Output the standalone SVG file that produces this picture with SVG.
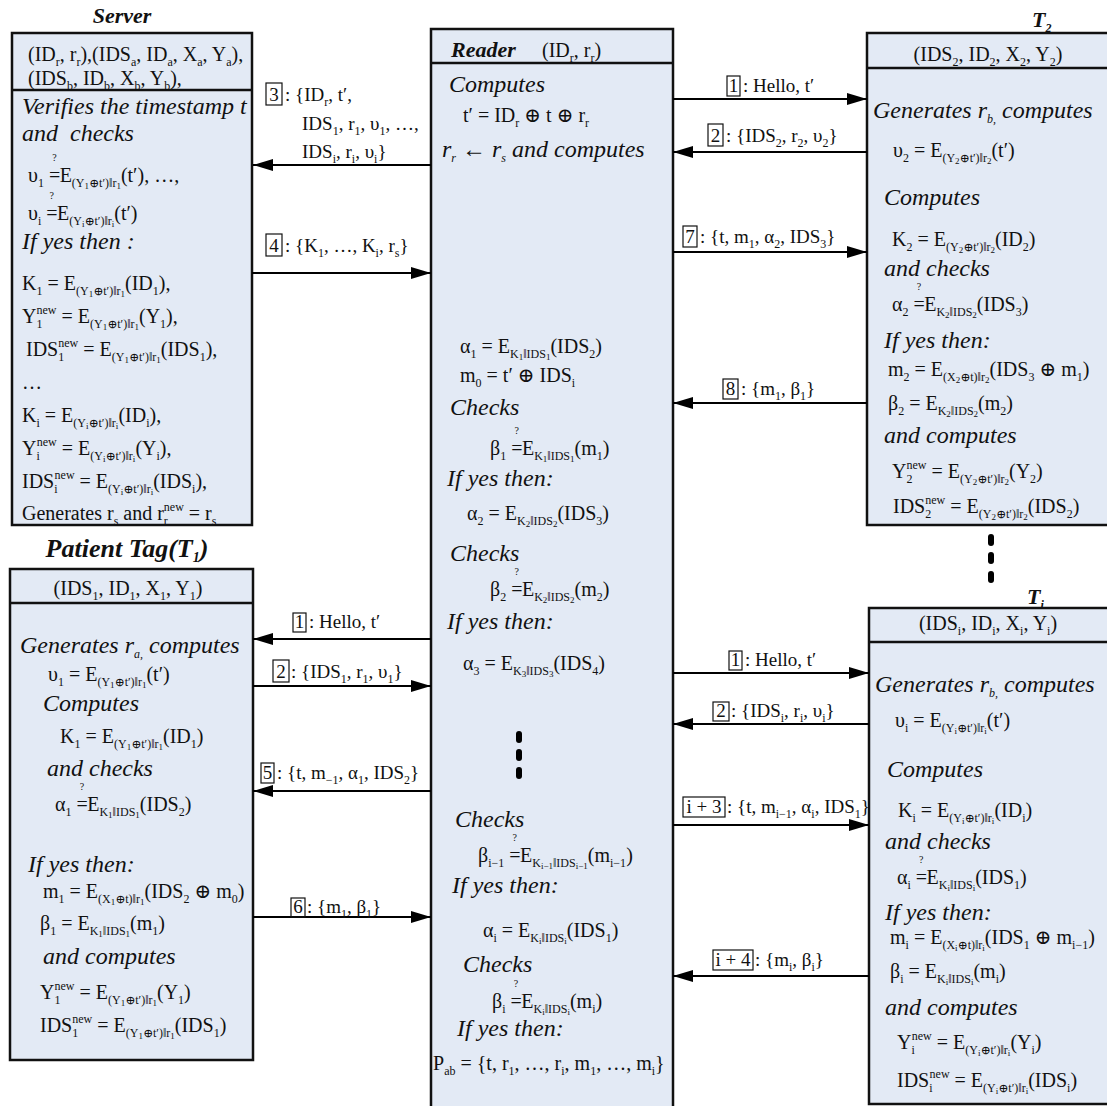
<svg xmlns="http://www.w3.org/2000/svg" width="1107" height="1106" viewBox="0 0 1107 1106">
<defs>
<marker id="ah" markerWidth="20" markerHeight="12" refX="20" refY="6" orient="auto" markerUnits="userSpaceOnUse">
<path d="M0,0 L20,6 L0,12 Z" fill="#000"/>
</marker>
</defs>
<style>
.box{fill:#e3eaf5;stroke:#111;stroke-width:2.5}
.div{stroke:#111;stroke-width:2.5}
text{font-family:"Liberation Serif","DejaVu Serif",serif;fill:#111}
.m{font-size:20px}
.l{font-size:19px}
.it{font-size:24px;font-style:italic}
.bi{font-size:22px;font-style:italic;font-weight:bold}
.s{font-size:12px;baseline-shift:-5px}
.ss{font-size:9px;baseline-shift:-2px}
.p{font-size:12px;baseline-shift:9px}
.q{font-size:10px;baseline-shift:21px}
.msg{fill:none;stroke:#000;stroke-width:2;marker-end:url(#ah)}
.nb{fill:none;stroke:#111;stroke-width:1.2}
.dot{fill:#000}
</style>

<rect width="1107" height="1106" fill="#fff"/>

<!-- Server -->
<g id="server">
<text class="bi" x="122" y="23" text-anchor="middle">Server</text>
<rect class="box" x="12" y="33" width="240" height="492"/>
<line class="div" x1="12" y1="90" x2="252" y2="90"/>
<text class="m" x="28" y="61">(ID<tspan class="s">r</tspan>, r<tspan class="s">r</tspan>),(IDS<tspan class="s">a</tspan>, ID<tspan class="s">a</tspan>, X<tspan class="s">a</tspan>, Y<tspan class="s">a</tspan>),</text>
<text class="m" x="28" y="85">(IDS<tspan class="s">b</tspan>, ID<tspan class="s">b</tspan>, X<tspan class="s">b</tspan>, Y<tspan class="s">b</tspan>),</text>
<text class="it" x="22" y="114">Verifies the timestamp t</text>
<text class="it" x="22" y="141" xml:space="preserve">and  checks</text>
<text class="m" x="28" y="182">υ<tspan class="s">1</tspan> =<tspan class="q" dx="-8">?</tspan><tspan dx="3">E</tspan><tspan class="s">(Y<tspan class="ss">1</tspan>⊕t′)‖r<tspan class="ss">1</tspan></tspan>(t′),  …,</text>
<text class="m" x="28" y="220">υ<tspan class="s">i</tspan> =<tspan class="q" dx="-8">?</tspan><tspan dx="3">E</tspan><tspan class="s">(Y<tspan class="ss">i</tspan>⊕t′)‖r<tspan class="ss">i</tspan></tspan>(t′)</text>
<text class="it" x="22" y="249">If yes then :</text>
<text class="m" x="22" y="290">K<tspan class="s">1</tspan> = E<tspan class="s">(Y<tspan class="ss">1</tspan>⊕t′)‖r<tspan class="ss">1</tspan></tspan>(ID<tspan class="s">1</tspan>),</text>
<text class="m" x="22" y="323">Y<tspan class="s">1</tspan><tspan class="p" dx="-6">new</tspan> = E<tspan class="s">(Y<tspan class="ss">1</tspan>⊕t′)‖r<tspan class="ss">1</tspan></tspan>(Y<tspan class="s">1</tspan>),</text>
<text class="m" x="26" y="356">IDS<tspan class="s">1</tspan><tspan class="p" dx="-6">new</tspan> = E<tspan class="s">(Y<tspan class="ss">1</tspan>⊕t′)‖r<tspan class="ss">1</tspan></tspan>(IDS<tspan class="s">1</tspan>),</text>
<text class="m" x="22" y="389">…</text>
<text class="m" x="22" y="422">K<tspan class="s">i</tspan> = E<tspan class="s">(Y<tspan class="ss">i</tspan>⊕t′)‖r<tspan class="ss">i</tspan></tspan>(ID<tspan class="s">i</tspan>),</text>
<text class="m" x="22" y="455">Y<tspan class="s">i</tspan><tspan class="p" dx="-3">new</tspan> = E<tspan class="s">(Y<tspan class="ss">i</tspan>⊕t′)‖r<tspan class="ss">i</tspan></tspan>(Y<tspan class="s">i</tspan>),</text>
<text class="m" x="22" y="488">IDS<tspan class="s">i</tspan><tspan class="p" dx="-3">new</tspan> = E<tspan class="s">(Y<tspan class="ss">i</tspan>⊕t′)‖r<tspan class="ss">i</tspan></tspan>(IDS<tspan class="s">i</tspan>),</text>
<text class="m" x="22" y="520">Generates r<tspan class="s">s</tspan> and r<tspan class="s">r</tspan><tspan class="p" dx="-4">new</tspan> = r<tspan class="s">s</tspan></text>
</g>

<!-- Reader -->
<g id="reader">
<rect class="box" x="431" y="29" width="242" height="1100"/>
<line class="div" x1="431" y1="63" x2="673" y2="63"/>
<text class="bi" x="451" y="57">Reader</text>
<text class="m" x="542" y="57">(ID<tspan class="s">r</tspan>, r<tspan class="s">r</tspan>)</text>
<text class="it" x="449" y="92">Computes</text>
<text class="m" x="463" y="122">t′ = ID<tspan class="s">r</tspan> ⊕ t ⊕ r<tspan class="s">r</tspan></text>
<text class="it" x="442" y="157">r<tspan class="s">r</tspan> ← r<tspan class="s">s</tspan> and  computes</text>
<text class="m" x="460" y="353">α<tspan class="s">1</tspan> = E<tspan class="s">K<tspan class="ss">1</tspan>‖IDS<tspan class="ss">1</tspan></tspan>(IDS<tspan class="s">2</tspan>)</text>
<text class="m" x="460" y="382">m<tspan class="s">0</tspan> = t′ ⊕ IDS<tspan class="s">i</tspan></text>
<text class="it" x="450" y="415">Checks</text>
<text class="m" x="490" y="455">β<tspan class="s">1</tspan> =<tspan class="q" dx="-8">?</tspan><tspan dx="3">E</tspan><tspan class="s">K<tspan class="ss">1</tspan>‖IDS<tspan class="ss">1</tspan></tspan>(m<tspan class="s">1</tspan>)</text>
<text class="it" x="447" y="486">If yes then:</text>
<text class="m" x="467" y="520">α<tspan class="s">2</tspan> = E<tspan class="s">K<tspan class="ss">2</tspan>‖IDS<tspan class="ss">2</tspan></tspan>(IDS<tspan class="s">3</tspan>)</text>
<text class="it" x="450" y="561">Checks</text>
<text class="m" x="490" y="596">β<tspan class="s">2</tspan> =<tspan class="q" dx="-8">?</tspan><tspan dx="3">E</tspan><tspan class="s">K<tspan class="ss">2</tspan>‖IDS<tspan class="ss">2</tspan></tspan>(m<tspan class="s">2</tspan>)</text>
<text class="it" x="447" y="629">If yes then:</text>
<text class="m" x="463" y="670">α<tspan class="s">3</tspan> = E<tspan class="s">K<tspan class="ss">3</tspan>‖IDS<tspan class="ss">3</tspan></tspan>(IDS<tspan class="s">4</tspan>)</text>
<rect class="dot" x="516" y="731" width="6" height="12" rx="3"/>
<rect class="dot" x="516" y="749" width="6" height="12" rx="3"/>
<rect class="dot" x="516" y="767" width="6" height="12" rx="3"/>
<text class="it" x="455" y="827">Checks</text>
<text class="m" x="478" y="862">β<tspan class="s">i−1</tspan> =<tspan class="q" dx="-8">?</tspan><tspan dx="3">E</tspan><tspan class="s">K<tspan class="ss">i−1</tspan>‖IDS<tspan class="ss">i−1</tspan></tspan>(m<tspan class="s">i−1</tspan>)</text>
<text class="it" x="452" y="893">If yes then:</text>
<text class="m" x="483" y="937">α<tspan class="s">i</tspan> = E<tspan class="s">K<tspan class="ss">i</tspan>‖IDS<tspan class="ss">i</tspan></tspan>(IDS<tspan class="s">1</tspan>)</text>
<text class="it" x="463" y="972">Checks</text>
<text class="m" x="492" y="1008">β<tspan class="s">i</tspan> =<tspan class="q" dx="-8">?</tspan><tspan dx="3">E</tspan><tspan class="s">K<tspan class="ss">i</tspan>‖IDS<tspan class="ss">i</tspan></tspan>(m<tspan class="s">i</tspan>)</text>
<text class="it" x="457" y="1036">If yes then:</text>
<text class="m" x="433" y="1070">P<tspan class="s">ab</tspan> = {t, r<tspan class="s">1</tspan>, …, r<tspan class="s">i</tspan>, m<tspan class="s">1</tspan>, …, m<tspan class="s">i</tspan>}</text>
</g>

<!-- Tag T2 -->
<g id="tag-t2">
<text class="bi" x="1032" y="27">T<tspan class="s">2</tspan></text>
<rect class="box" x="867" y="33" width="250" height="492"/>
<line class="div" x1="867" y1="68" x2="1117" y2="68"/>
<text class="m" x="988" y="61" text-anchor="middle">(IDS<tspan class="s">2</tspan>, ID<tspan class="s">2</tspan>, X<tspan class="s">2</tspan>, Y<tspan class="s">2</tspan>)</text>
<text class="it" x="873" y="118">Generates r<tspan class="s">b,</tspan> computes</text>
<text class="m" x="893" y="157">υ<tspan class="s">2</tspan> = E<tspan class="s">(Y<tspan class="ss">2</tspan>⊕t′)‖r<tspan class="ss">2</tspan></tspan>(t′)</text>
<text class="it" x="884" y="205">Computes</text>
<text class="m" x="892" y="246">K<tspan class="s">2</tspan> = E<tspan class="s">(Y<tspan class="ss">2</tspan>⊕t′)‖r<tspan class="ss">2</tspan></tspan>(ID<tspan class="s">2</tspan>)</text>
<text class="it" x="884" y="276">and checks</text>
<text class="m" x="892" y="311">α<tspan class="s">2</tspan> =<tspan class="q" dx="-8">?</tspan><tspan dx="3">E</tspan><tspan class="s">K<tspan class="ss">2</tspan>‖IDS<tspan class="ss">2</tspan></tspan>(IDS<tspan class="s">3</tspan>)</text>
<text class="it" x="884" y="348">If yes then:</text>
<text class="m" x="888" y="376">m<tspan class="s">2</tspan> = E<tspan class="s">(X<tspan class="ss">2</tspan>⊕t)‖r<tspan class="ss">2</tspan></tspan>(IDS<tspan class="s">3</tspan> ⊕ m<tspan class="s">1</tspan>)</text>
<text class="m" x="888" y="410">β<tspan class="s">2</tspan> = E<tspan class="s">K<tspan class="ss">2</tspan>‖IDS<tspan class="ss">2</tspan></tspan>(m<tspan class="s">2</tspan>)</text>
<text class="it" x="884" y="443">and computes</text>
<text class="m" x="892" y="478">Y<tspan class="s">2</tspan><tspan class="p" dx="-6">new</tspan> = E<tspan class="s">(Y<tspan class="ss">2</tspan>⊕t′)‖r<tspan class="ss">2</tspan></tspan>(Y<tspan class="s">2</tspan>)</text>
<text class="m" x="893" y="513">IDS<tspan class="s">2</tspan><tspan class="p" dx="-6">new</tspan> = E<tspan class="s">(Y<tspan class="ss">2</tspan>⊕t′)‖r<tspan class="ss">2</tspan></tspan>(IDS<tspan class="s">2</tspan>)</text>
</g>

<!-- more tags between T2 and Ti -->
<g id="ellipsis-tags">
<rect class="dot" x="988" y="534" width="6" height="12" rx="3"/>
<rect class="dot" x="988" y="552" width="6" height="12" rx="3"/>
<rect class="dot" x="988" y="571" width="6" height="12" rx="3"/>
</g>

<!-- Tag Ti -->
<g id="tag-ti">
<text class="bi" x="1027" y="604">T<tspan class="s">i</tspan></text>
<rect class="box" x="869" y="608" width="250" height="496"/>
<line class="div" x1="869" y1="642" x2="1119" y2="642"/>
<text class="m" x="988" y="630" text-anchor="middle">(IDS<tspan class="s">i</tspan>, ID<tspan class="s">i</tspan>, X<tspan class="s">i</tspan>, Y<tspan class="s">i</tspan>)</text>
<text class="it" x="875" y="692">Generates r<tspan class="s">b,</tspan> computes</text>
<text class="m" x="895" y="727">υ<tspan class="s">i</tspan> = E<tspan class="s">(Y<tspan class="ss">i</tspan>⊕t′)‖r<tspan class="ss">i</tspan></tspan>(t′)</text>
<text class="it" x="887" y="777">Computes</text>
<text class="m" x="898" y="817">K<tspan class="s">i</tspan> = E<tspan class="s">(Y<tspan class="ss">i</tspan>⊕t′)‖r<tspan class="ss">i</tspan></tspan>(ID<tspan class="s">i</tspan>)</text>
<text class="it" x="885" y="849">and checks</text>
<text class="m" x="897" y="884">α<tspan class="s">i</tspan> =<tspan class="q" dx="-8">?</tspan><tspan dx="3">E</tspan><tspan class="s">K<tspan class="ss">i</tspan>‖IDS<tspan class="ss">i</tspan></tspan>(IDS<tspan class="s">1</tspan>)</text>
<text class="it" x="885" y="920">If yes then:</text>
<text class="m" x="890" y="944">m<tspan class="s">i</tspan> = E<tspan class="s">(X<tspan class="ss">i</tspan>⊕t)‖r<tspan class="ss">i</tspan></tspan>(IDS<tspan class="s">1</tspan> ⊕ m<tspan class="s">i−1</tspan>)</text>
<text class="m" x="890" y="978">β<tspan class="s">i</tspan> = E<tspan class="s">K<tspan class="ss">i</tspan>‖IDS<tspan class="ss">i</tspan></tspan>(m<tspan class="s">i</tspan>)</text>
<text class="it" x="885" y="1015">and computes</text>
<text class="m" x="897" y="1049">Y<tspan class="s">i</tspan><tspan class="p" dx="-3">new</tspan> = E<tspan class="s">(Y<tspan class="ss">i</tspan>⊕t′)‖r<tspan class="ss">i</tspan></tspan>(Y<tspan class="s">i</tspan>)</text>
<text class="m" x="897" y="1087">IDS<tspan class="s">i</tspan><tspan class="p" dx="-3">new</tspan> = E<tspan class="s">(Y<tspan class="ss">i</tspan>⊕t′)‖r<tspan class="ss">i</tspan></tspan>(IDS<tspan class="s">i</tspan>)</text>
</g>

<!-- Patient tag T1 -->
<g id="tag-t1">
<text class="bi" x="127" y="557" text-anchor="middle" style="font-size:26px">Patient Tag(T<tspan class="s" style="font-size:14px">1</tspan>)</text>
<rect class="box" x="10" y="569" width="243" height="491"/>
<line class="div" x1="10" y1="603" x2="253" y2="603"/>
<text class="m" x="128" y="595" text-anchor="middle">(IDS<tspan class="s">1</tspan>, ID<tspan class="s">1</tspan>, X<tspan class="s">1</tspan>, Y<tspan class="s">1</tspan>)</text>
<text class="it" x="20" y="653">Generates r<tspan class="s">a,</tspan> computes</text>
<text class="m" x="48" y="681">υ<tspan class="s">1</tspan> = E<tspan class="s">(Y<tspan class="ss">1</tspan>⊕t′)‖r<tspan class="ss">1</tspan></tspan>(t′)</text>
<text class="it" x="43" y="711">Computes</text>
<text class="m" x="60" y="743">K<tspan class="s">1</tspan> = E<tspan class="s">(Y<tspan class="ss">1</tspan>⊕t′)‖r<tspan class="ss">1</tspan></tspan>(ID<tspan class="s">1</tspan>)</text>
<text class="it" x="47" y="776">and checks</text>
<text class="m" x="55" y="811">α<tspan class="s">1</tspan> =<tspan class="q" dx="-8">?</tspan><tspan dx="3">E</tspan><tspan class="s">K<tspan class="ss">1</tspan>‖IDS<tspan class="ss">1</tspan></tspan>(IDS<tspan class="s">2</tspan>)</text>
<text class="it" x="28" y="872">If yes then:</text>
<text class="m" x="43" y="898">m<tspan class="s">1</tspan> = E<tspan class="s">(X<tspan class="ss">1</tspan>⊕t)‖r<tspan class="ss">1</tspan></tspan>(IDS<tspan class="s">2</tspan> ⊕ m<tspan class="s">0</tspan>)</text>
<text class="m" x="40" y="930">β<tspan class="s">1</tspan> = E<tspan class="s">K<tspan class="ss">1</tspan>‖IDS<tspan class="ss">1</tspan></tspan>(m<tspan class="s">1</tspan>)</text>
<text class="it" x="43" y="964">and computes</text>
<text class="m" x="40" y="999">Y<tspan class="s">1</tspan><tspan class="p" dx="-6">new</tspan> = E<tspan class="s">(Y<tspan class="ss">1</tspan>⊕t′)‖r<tspan class="ss">1</tspan></tspan>(Y<tspan class="s">1</tspan>)</text>
<text class="m" x="40" y="1032">IDS<tspan class="s">1</tspan><tspan class="p" dx="-6">new</tspan> = E<tspan class="s">(Y<tspan class="ss">1</tspan>⊕t′)‖r<tspan class="ss">1</tspan></tspan>(IDS<tspan class="s">1</tspan>)</text>
</g>

<!-- Messages -->
<g id="connectors">
<!-- reader <-> server -->
<line class="msg" x1="431" y1="165" x2="253" y2="165"/>
<rect class="nb" x="266" y="83" width="16" height="22"/>
<text class="l" x="274" y="101" text-anchor="middle">3</text>
<text class="l" x="285" y="101">: {ID<tspan class="s">r</tspan>, t′,</text>
<text class="l" x="302" y="130">IDS<tspan class="s">1</tspan>, r<tspan class="s">1</tspan>, υ<tspan class="s">1</tspan>, …,</text>
<text class="l" x="302" y="158">IDS<tspan class="s">i</tspan>, r<tspan class="s">i</tspan>, υ<tspan class="s">i</tspan>}</text>
<line class="msg" x1="252" y1="273" x2="431" y2="273"/>
<rect class="nb" x="266" y="234" width="16" height="22"/>
<text class="l" x="274" y="252" text-anchor="middle">4</text>
<text class="l" x="285" y="252">: {K<tspan class="s">1</tspan>, …, K<tspan class="s">i</tspan>, r<tspan class="s">s</tspan>}</text>

<!-- reader <-> T2 -->
<line class="msg" x1="673" y1="99" x2="867" y2="99"/>
<rect class="nb" x="727" y="76" width="13" height="20"/>
<text class="l" x="733.5" y="92" text-anchor="middle">1</text>
<text class="l" x="743" y="92">: Hello, t′</text>
<line class="msg" x1="867" y1="152" x2="673" y2="152"/>
<rect class="nb" x="708" y="124" width="15" height="22"/>
<text class="l" x="715.5" y="142" text-anchor="middle">2</text>
<text class="l" x="726" y="142">: {IDS<tspan class="s">2</tspan>, r<tspan class="s">2</tspan>, υ<tspan class="s">2</tspan>}</text>
<line class="msg" x1="673" y1="252" x2="867" y2="252"/>
<rect class="nb" x="683" y="226" width="14" height="21"/>
<text class="l" x="690" y="243" text-anchor="middle">7</text>
<text class="l" x="700" y="243">: {t, m<tspan class="s">1</tspan>, α<tspan class="s">2</tspan>, IDS<tspan class="s">3</tspan>}</text>
<line class="msg" x1="867" y1="403" x2="673" y2="403"/>
<rect class="nb" x="723" y="379" width="15" height="20"/>
<text class="l" x="730.5" y="395" text-anchor="middle">8</text>
<text class="l" x="741" y="395">: {m<tspan class="s">1</tspan>, β<tspan class="s">1</tspan>}</text>

<!-- reader <-> T1 -->
<line class="msg" x1="431" y1="639" x2="253" y2="639"/>
<rect class="nb" x="293" y="613" width="13" height="19"/>
<text class="l" x="299.5" y="628" text-anchor="middle">1</text>
<text class="l" x="309" y="628">: Hello, t′</text>
<line class="msg" x1="253" y1="686" x2="431" y2="686"/>
<rect class="nb" x="273" y="660" width="16" height="22"/>
<text class="l" x="281" y="678" text-anchor="middle">2</text>
<text class="l" x="291" y="678">: {IDS<tspan class="s">1</tspan>, r<tspan class="s">1</tspan>, υ<tspan class="s">1</tspan>}</text>
<line class="msg" x1="431" y1="791" x2="253" y2="791"/>
<rect class="nb" x="261" y="763" width="13" height="20"/>
<text class="l" x="267.5" y="779" text-anchor="middle">5</text>
<text class="l" x="277" y="779">: {t, m<tspan class="s">−1</tspan>, α<tspan class="s">1</tspan>, IDS<tspan class="s">2</tspan>}</text>
<line class="msg" x1="253" y1="917" x2="431" y2="917"/>
<rect class="nb" x="291" y="898" width="14" height="19"/>
<text class="l" x="298" y="913" text-anchor="middle">6</text>
<text class="l" x="307" y="913">: {m<tspan class="s">1</tspan>, β<tspan class="s">1</tspan>}</text>

<!-- reader <-> Ti -->
<line class="msg" x1="673" y1="673" x2="869" y2="673"/>
<rect class="nb" x="729" y="651" width="13" height="19"/>
<text class="l" x="735.5" y="666" text-anchor="middle">1</text>
<text class="l" x="745" y="666">: Hello, t′</text>
<line class="msg" x1="869" y1="724" x2="673" y2="724"/>
<rect class="nb" x="713" y="702" width="16" height="19"/>
<text class="l" x="721" y="717" text-anchor="middle">2</text>
<text class="l" x="731" y="717">: {IDS<tspan class="s">i</tspan>, r<tspan class="s">i</tspan>, υ<tspan class="s">i</tspan>}</text>
<line class="msg" x1="673" y1="825" x2="869" y2="825"/>
<rect class="nb" x="683" y="797" width="42" height="20"/>
<text class="l" x="704" y="813" text-anchor="middle">i + 3</text>
<text class="l" x="727" y="813">: {t, m<tspan class="s">i−1</tspan>, α<tspan class="s">i</tspan>, IDS<tspan class="s">1</tspan>}</text>
<line class="msg" x1="869" y1="976" x2="673" y2="976"/>
<rect class="nb" x="713" y="950" width="40" height="20"/>
<text class="l" x="733" y="966" text-anchor="middle">i + 4</text>
<text class="l" x="755" y="966">: {m<tspan class="s">i</tspan>, β<tspan class="s">i</tspan>}</text>
</g>
</svg>
